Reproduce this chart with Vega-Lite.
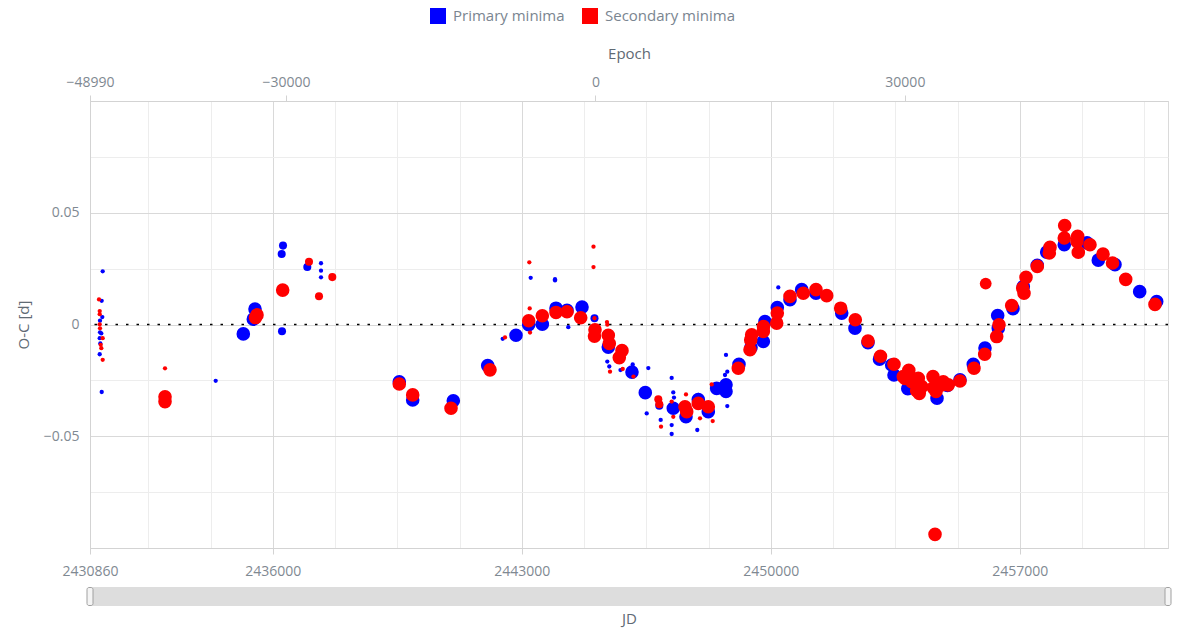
{
  "$schema": "https://vega.github.io/schema/vega-lite/v6.json",
  "background": "white",
  "padding": {"left": 15, "top": 8, "right": 3, "bottom": 2},
  "spacing": 8,
  "datasets": {
    "minima": [
      {"type":"Primary minima","jd":2431217,"oc":0.0238,"weight":2},
      {"type":"Primary minima","jd":2431189,"oc":0.0106,"weight":2},
      {"type":"Primary minima","jd":2431206,"oc":0.0033,"weight":2},
      {"type":"Primary minima","jd":2431141,"oc":0.0017,"weight":2},
      {"type":"Primary minima","jd":2431141,"oc":-0.0035,"weight":2},
      {"type":"Primary minima","jd":2431178,"oc":-0.004,"weight":2},
      {"type":"Primary minima","jd":2431133,"oc":-0.0061,"weight":2},
      {"type":"Primary minima","jd":2431150,"oc":-0.0085,"weight":2},
      {"type":"Primary minima","jd":2431133,"oc":-0.0133,"weight":2},
      {"type":"Primary minima","jd":2431189,"oc":-0.0302,"weight":2},
      {"type":"Primary minima","jd":2434394,"oc":-0.0252,"weight":2},
      {"type":"Primary minima","jd":2435170,"oc":-0.0042,"weight":20},
      {"type":"Primary minima","jd":2435499,"oc":0.0069,"weight":20},
      {"type":"Primary minima","jd":2435451,"oc":0.0024,"weight":20},
      {"type":"Primary minima","jd":2436286,"oc":0.0353,"weight":7},
      {"type":"Primary minima","jd":2436249,"oc":0.0315,"weight":7},
      {"type":"Primary minima","jd":2436258,"oc":-0.003,"weight":7},
      {"type":"Primary minima","jd":2436969,"oc":0.0257,"weight":7},
      {"type":"Primary minima","jd":2437354,"oc":0.0274,"weight":2},
      {"type":"Primary minima","jd":2437354,"oc":0.0241,"weight":2},
      {"type":"Primary minima","jd":2437354,"oc":0.0211,"weight":2},
      {"type":"Primary minima","jd":2439555,"oc":-0.0256,"weight":20},
      {"type":"Primary minima","jd":2439932,"oc":-0.0338,"weight":20},
      {"type":"Primary minima","jd":2441074,"oc":-0.0341,"weight":20},
      {"type":"Primary minima","jd":2442041,"oc":-0.0184,"weight":20},
      {"type":"Primary minima","jd":2442462,"oc":-0.0064,"weight":2},
      {"type":"Primary minima","jd":2442836,"oc":-0.0048,"weight":20},
      {"type":"Primary minima","jd":2443193,"oc":-0.0001,"weight":20},
      {"type":"Primary minima","jd":2443249,"oc":0.0209,"weight":2},
      {"type":"Primary minima","jd":2443576,"oc":0.0001,"weight":20},
      {"type":"Primary minima","jd":2443933,"oc":0.0203,"weight":2},
      {"type":"Primary minima","jd":2443933,"oc":0.0197,"weight":2},
      {"type":"Primary minima","jd":2443961,"oc":0.0073,"weight":20},
      {"type":"Primary minima","jd":2444270,"oc":0.0063,"weight":20},
      {"type":"Primary minima","jd":2444306,"oc":-0.0012,"weight":2},
      {"type":"Primary minima","jd":2444692,"oc":0.0078,"weight":20},
      {"type":"Primary minima","jd":2445043,"oc":0.0028,"weight":7},
      {"type":"Primary minima","jd":2445431,"oc":-0.0101,"weight":20},
      {"type":"Primary minima","jd":2445403,"oc":-0.0166,"weight":2},
      {"type":"Primary minima","jd":2445459,"oc":-0.0188,"weight":2},
      {"type":"Primary minima","jd":2445774,"oc":-0.0204,"weight":2},
      {"type":"Primary minima","jd":2446097,"oc":-0.0213,"weight":20},
      {"type":"Primary minima","jd":2446117,"oc":-0.0179,"weight":2},
      {"type":"Primary minima","jd":2446556,"oc":-0.0195,"weight":2},
      {"type":"Primary minima","jd":2446471,"oc":-0.0305,"weight":20},
      {"type":"Primary minima","jd":2446511,"oc":-0.0398,"weight":2},
      {"type":"Primary minima","jd":2446865,"oc":-0.0363,"weight":7},
      {"type":"Primary minima","jd":2446904,"oc":-0.0427,"weight":2},
      {"type":"Primary minima","jd":2447213,"oc":-0.0239,"weight":2},
      {"type":"Primary minima","jd":2447258,"oc":-0.0304,"weight":2},
      {"type":"Primary minima","jd":2447278,"oc":-0.0327,"weight":2},
      {"type":"Primary minima","jd":2447258,"oc":-0.0375,"weight":20},
      {"type":"Primary minima","jd":2447213,"oc":-0.045,"weight":2},
      {"type":"Primary minima","jd":2447213,"oc":-0.049,"weight":2},
      {"type":"Primary minima","jd":2447615,"oc":-0.0413,"weight":20},
      {"type":"Primary minima","jd":2447961,"oc":-0.0315,"weight":2},
      {"type":"Primary minima","jd":2447961,"oc":-0.0336,"weight":20},
      {"type":"Primary minima","jd":2447933,"oc":-0.0472,"weight":2},
      {"type":"Primary minima","jd":2448242,"oc":-0.039,"weight":20},
      {"type":"Primary minima","jd":2448478,"oc":-0.0286,"weight":20},
      {"type":"Primary minima","jd":2448740,"oc":-0.027,"weight":20},
      {"type":"Primary minima","jd":2448740,"oc":-0.03,"weight":20},
      {"type":"Primary minima","jd":2448776,"oc":-0.0365,"weight":2},
      {"type":"Primary minima","jd":2448712,"oc":-0.0226,"weight":2},
      {"type":"Primary minima","jd":2448740,"oc":-0.0136,"weight":2},
      {"type":"Primary minima","jd":2448776,"oc":-0.0211,"weight":2},
      {"type":"Primary minima","jd":2449105,"oc":-0.0178,"weight":20},
      {"type":"Primary minima","jd":2449443,"oc":-0.0103,"weight":20},
      {"type":"Primary minima","jd":2449789,"oc":-0.0076,"weight":20},
      {"type":"Primary minima","jd":2449836,"oc":0.0013,"weight":20},
      {"type":"Primary minima","jd":2450182,"oc":0.0076,"weight":20},
      {"type":"Primary minima","jd":2450210,"oc":0.0166,"weight":2},
      {"type":"Primary minima","jd":2450539,"oc":0.0111,"weight":20},
      {"type":"Primary minima","jd":2450868,"oc":0.0156,"weight":20},
      {"type":"Primary minima","jd":2451270,"oc":0.014,"weight":20},
      {"type":"Primary minima","jd":2451993,"oc":0.0051,"weight":20},
      {"type":"Primary minima","jd":2452366,"oc":-0.0017,"weight":20},
      {"type":"Primary minima","jd":2452732,"oc":-0.0081,"weight":20},
      {"type":"Primary minima","jd":2453055,"oc":-0.0155,"weight":20},
      {"type":"Primary minima","jd":2453398,"oc":-0.0181,"weight":20},
      {"type":"Primary minima","jd":2453463,"oc":-0.0226,"weight":20},
      {"type":"Primary minima","jd":2453851,"oc":-0.0287,"weight":20},
      {"type":"Primary minima","jd":2454138,"oc":-0.0269,"weight":20},
      {"type":"Primary minima","jd":2454672,"oc":-0.033,"weight":20},
      {"type":"Primary minima","jd":2454967,"oc":-0.0273,"weight":20},
      {"type":"Primary minima","jd":2455318,"oc":-0.0247,"weight":20},
      {"type":"Primary minima","jd":2455692,"oc":-0.0178,"weight":20},
      {"type":"Primary minima","jd":2456021,"oc":-0.0105,"weight":20},
      {"type":"Primary minima","jd":2456395,"oc":-0.0017,"weight":20},
      {"type":"Primary minima","jd":2456378,"oc":0.004,"weight":20},
      {"type":"Primary minima","jd":2456808,"oc":0.0071,"weight":20},
      {"type":"Primary minima","jd":2457098,"oc":0.017,"weight":20},
      {"type":"Primary minima","jd":2457491,"oc":0.0265,"weight":20},
      {"type":"Primary minima","jd":2457756,"oc":0.0324,"weight":20},
      {"type":"Primary minima","jd":2458250,"oc":0.0357,"weight":20},
      {"type":"Primary minima","jd":2458889,"oc":0.0365,"weight":20},
      {"type":"Primary minima","jd":2459206,"oc":0.0288,"weight":20},
      {"type":"Primary minima","jd":2459676,"oc":0.0268,"weight":20},
      {"type":"Primary minima","jd":2460370,"oc":0.0147,"weight":20},
      {"type":"Primary minima","jd":2460848,"oc":0.0103,"weight":20},
      {"type":"Secondary minima","jd":2431113,"oc":0.0112,"weight":2},
      {"type":"Secondary minima","jd":2431133,"oc":0.006,"weight":2},
      {"type":"Secondary minima","jd":2431133,"oc":0.0046,"weight":2},
      {"type":"Secondary minima","jd":2431133,"oc":0.0001,"weight":2},
      {"type":"Secondary minima","jd":2431141,"oc":-0.0017,"weight":2},
      {"type":"Secondary minima","jd":2431217,"oc":-0.0061,"weight":2},
      {"type":"Secondary minima","jd":2431161,"oc":-0.0091,"weight":2},
      {"type":"Secondary minima","jd":2431178,"oc":-0.0106,"weight":2},
      {"type":"Secondary minima","jd":2431217,"oc":-0.0158,"weight":2},
      {"type":"Secondary minima","jd":2432969,"oc":-0.0196,"weight":2},
      {"type":"Secondary minima","jd":2432969,"oc":-0.0323,"weight":20},
      {"type":"Secondary minima","jd":2432969,"oc":-0.0345,"weight":20},
      {"type":"Secondary minima","jd":2435555,"oc":0.0043,"weight":20},
      {"type":"Secondary minima","jd":2435513,"oc":0.0031,"weight":20},
      {"type":"Secondary minima","jd":2436277,"oc":0.0154,"weight":20},
      {"type":"Secondary minima","jd":2437017,"oc":0.0281,"weight":7},
      {"type":"Secondary minima","jd":2437298,"oc":0.0126,"weight":7},
      {"type":"Secondary minima","jd":2437672,"oc":0.0212,"weight":7},
      {"type":"Secondary minima","jd":2439555,"oc":-0.0266,"weight":20},
      {"type":"Secondary minima","jd":2439932,"oc":-0.0315,"weight":20},
      {"type":"Secondary minima","jd":2441009,"oc":-0.0375,"weight":20},
      {"type":"Secondary minima","jd":2442105,"oc":-0.0203,"weight":20},
      {"type":"Secondary minima","jd":2442527,"oc":-0.0058,"weight":2},
      {"type":"Secondary minima","jd":2443193,"oc":0.0017,"weight":20},
      {"type":"Secondary minima","jd":2443210,"oc":0.0278,"weight":2},
      {"type":"Secondary minima","jd":2443221,"oc":0.0072,"weight":2},
      {"type":"Secondary minima","jd":2443230,"oc":-0.0036,"weight":2},
      {"type":"Secondary minima","jd":2443576,"oc":0.0039,"weight":20},
      {"type":"Secondary minima","jd":2443961,"oc":0.0054,"weight":20},
      {"type":"Secondary minima","jd":2444270,"oc":0.0057,"weight":20},
      {"type":"Secondary minima","jd":2444655,"oc":0.003,"weight":20},
      {"type":"Secondary minima","jd":2445015,"oc":0.0348,"weight":2},
      {"type":"Secondary minima","jd":2445015,"oc":0.0257,"weight":2},
      {"type":"Secondary minima","jd":2445043,"oc":0.0028,"weight":2},
      {"type":"Secondary minima","jd":2445057,"oc":-0.0024,"weight":20},
      {"type":"Secondary minima","jd":2445043,"oc":-0.0052,"weight":20},
      {"type":"Secondary minima","jd":2445394,"oc":0.0011,"weight":2},
      {"type":"Secondary minima","jd":2445403,"oc":-0.0001,"weight":2},
      {"type":"Secondary minima","jd":2445431,"oc":-0.0048,"weight":20},
      {"type":"Secondary minima","jd":2445459,"oc":-0.0085,"weight":20},
      {"type":"Secondary minima","jd":2445479,"oc":-0.0211,"weight":2},
      {"type":"Secondary minima","jd":2445816,"oc":-0.0117,"weight":20},
      {"type":"Secondary minima","jd":2445740,"oc":-0.0148,"weight":20},
      {"type":"Secondary minima","jd":2445836,"oc":-0.0199,"weight":2},
      {"type":"Secondary minima","jd":2446139,"oc":-0.0233,"weight":2},
      {"type":"Secondary minima","jd":2446837,"oc":-0.0334,"weight":7},
      {"type":"Secondary minima","jd":2446865,"oc":-0.0357,"weight":7},
      {"type":"Secondary minima","jd":2446913,"oc":-0.0457,"weight":2},
      {"type":"Secondary minima","jd":2447213,"oc":-0.0345,"weight":2},
      {"type":"Secondary minima","jd":2447258,"oc":-0.0413,"weight":2},
      {"type":"Secondary minima","jd":2447615,"oc":-0.0313,"weight":2},
      {"type":"Secondary minima","jd":2447587,"oc":-0.0368,"weight":20},
      {"type":"Secondary minima","jd":2447635,"oc":-0.039,"weight":20},
      {"type":"Secondary minima","jd":2447961,"oc":-0.0353,"weight":20},
      {"type":"Secondary minima","jd":2448009,"oc":-0.042,"weight":2},
      {"type":"Secondary minima","jd":2448242,"oc":-0.0368,"weight":20},
      {"type":"Secondary minima","jd":2448366,"oc":-0.0432,"weight":2},
      {"type":"Secondary minima","jd":2448338,"oc":-0.0268,"weight":2},
      {"type":"Secondary minima","jd":2449086,"oc":-0.0196,"weight":20},
      {"type":"Secondary minima","jd":2449415,"oc":-0.0113,"weight":20},
      {"type":"Secondary minima","jd":2449435,"oc":-0.0069,"weight":20},
      {"type":"Secondary minima","jd":2449462,"oc":-0.0046,"weight":20},
      {"type":"Secondary minima","jd":2449789,"oc":-0.0031,"weight":20},
      {"type":"Secondary minima","jd":2449794,"oc":-0.0009,"weight":20},
      {"type":"Secondary minima","jd":2450165,"oc":0.0006,"weight":20},
      {"type":"Secondary minima","jd":2450182,"oc":0.0051,"weight":20},
      {"type":"Secondary minima","jd":2450539,"oc":0.0126,"weight":20},
      {"type":"Secondary minima","jd":2450913,"oc":0.014,"weight":20},
      {"type":"Secondary minima","jd":2451270,"oc":0.0156,"weight":20},
      {"type":"Secondary minima","jd":2451571,"oc":0.0129,"weight":20},
      {"type":"Secondary minima","jd":2451964,"oc":0.0073,"weight":20},
      {"type":"Secondary minima","jd":2452375,"oc":0.0021,"weight":20},
      {"type":"Secondary minima","jd":2452732,"oc":-0.0074,"weight":20},
      {"type":"Secondary minima","jd":2453083,"oc":-0.0142,"weight":20},
      {"type":"Secondary minima","jd":2453463,"oc":-0.0178,"weight":20},
      {"type":"Secondary minima","jd":2453724,"oc":-0.0233,"weight":20},
      {"type":"Secondary minima","jd":2453879,"oc":-0.0205,"weight":20},
      {"type":"Secondary minima","jd":2453772,"oc":-0.0241,"weight":20},
      {"type":"Secondary minima","jd":2453960,"oc":-0.0256,"weight":20},
      {"type":"Secondary minima","jd":2454101,"oc":-0.0296,"weight":20},
      {"type":"Secondary minima","jd":2454146,"oc":-0.0241,"weight":20},
      {"type":"Secondary minima","jd":2454242,"oc":-0.0278,"weight":20},
      {"type":"Secondary minima","jd":2454174,"oc":-0.0308,"weight":20},
      {"type":"Secondary minima","jd":2454559,"oc":-0.0233,"weight":20},
      {"type":"Secondary minima","jd":2454568,"oc":-0.0283,"weight":20},
      {"type":"Secondary minima","jd":2454644,"oc":-0.03,"weight":20},
      {"type":"Secondary minima","jd":2454804,"oc":-0.027,"weight":20},
      {"type":"Secondary minima","jd":2454849,"oc":-0.0256,"weight":20},
      {"type":"Secondary minima","jd":2454990,"oc":-0.027,"weight":20},
      {"type":"Secondary minima","jd":2455318,"oc":-0.0253,"weight":20},
      {"type":"Secondary minima","jd":2454616,"oc":-0.0939,"weight":20},
      {"type":"Secondary minima","jd":2455712,"oc":-0.0196,"weight":20},
      {"type":"Secondary minima","jd":2456013,"oc":-0.0133,"weight":20},
      {"type":"Secondary minima","jd":2456041,"oc":0.0183,"weight":15},
      {"type":"Secondary minima","jd":2456350,"oc":-0.0054,"weight":20},
      {"type":"Secondary minima","jd":2456415,"oc":-0.0001,"weight":20},
      {"type":"Secondary minima","jd":2456772,"oc":0.0085,"weight":20},
      {"type":"Secondary minima","jd":2457118,"oc":0.014,"weight":20},
      {"type":"Secondary minima","jd":2457081,"oc":0.0163,"weight":20},
      {"type":"Secondary minima","jd":2457174,"oc":0.0211,"weight":20},
      {"type":"Secondary minima","jd":2457491,"oc":0.026,"weight":20},
      {"type":"Secondary minima","jd":2457829,"oc":0.032,"weight":20},
      {"type":"Secondary minima","jd":2457848,"oc":0.0345,"weight":20},
      {"type":"Secondary minima","jd":2458262,"oc":0.0443,"weight":20},
      {"type":"Secondary minima","jd":2458250,"oc":0.0387,"weight":20},
      {"type":"Secondary minima","jd":2458627,"oc":0.0395,"weight":20},
      {"type":"Secondary minima","jd":2458607,"oc":0.0372,"weight":20},
      {"type":"Secondary minima","jd":2458644,"oc":0.0323,"weight":20},
      {"type":"Secondary minima","jd":2458973,"oc":0.0357,"weight":20},
      {"type":"Secondary minima","jd":2459339,"oc":0.0315,"weight":20},
      {"type":"Secondary minima","jd":2459606,"oc":0.0275,"weight":20},
      {"type":"Secondary minima","jd":2459977,"oc":0.0202,"weight":20},
      {"type":"Secondary minima","jd":2460800,"oc":0.009,"weight":20}
    ],
    "slider": [{"start": 2430860, "end": 2461166}]
  },
  "vconcat": [
    {
      "width": 1078,
      "height": 447,
      "resolve": {"scale": {"x": "independent"}, "axis": {"x": "independent"}},
      "layer": [
        {
          "data": {"values": [{}]},
          "mark": {"type": "rule", "color": "#000000", "strokeDash": [2.5, 8], "strokeWidth": 1.3},
          "encoding": {"y": {"datum": 0, "type": "quantitative"}}
        },
        {
          "data": {"name": "minima"},
          "mark": {"type": "circle", "opacity": 1},
          "encoding": {
            "x": {
              "field": "jd", "type": "quantitative",
              "scale": {"domain": [2430860, 2461166], "nice": false, "zero": false},
              "axis": {
                "orient": "bottom", "title": null, "format": "d",
                "values": [2430860, 2432500, 2434250, 2436000, 2437750, 2439500, 2441250, 2443000, 2444750, 2446500, 2448250, 2450000, 2451750, 2453500, 2455250, 2457000, 2458750, 2460500],
                "labelExpr": "datum.value % 7000 === 0 || datum.value === 2430860 ? datum.label : ''",
                "labelOverlap": false, "labelFlush": false,
                "grid": true,
                "gridColor": {"condition": {"test": "datum.value % 7000 === 0", "value": "#d9d9d9"}, "value": "#ededed"},
                "tickOpacity": {"condition": {"test": "datum.value % 7000 === 0 || datum.value === 2430860", "value": 1}, "value": 0},
                "tickSize": 6, "labelPadding": 10
              }
            },
            "y": {
              "field": "oc", "type": "quantitative",
              "scale": {"domain": [-0.1, 0.1], "nice": false, "zero": false},
              "axis": {
                "title": "O-C [d]", "format": "~g",
                "values": [-0.1, -0.0875, -0.075, -0.0625, -0.05, -0.0375, -0.025, -0.0125, 0, 0.0125, 0.025, 0.0375, 0.05, 0.0625, 0.075, 0.0875, 0.1],
                "labelExpr": "abs(datum.value) < 0.06 && abs(datum.value * 20 - round(datum.value * 20)) < 0.001 ? datum.label : ''",
                "labelOverlap": false, "labelFlush": false,
                "grid": true,
                "gridColor": {"condition": {"test": "abs(datum.value * 20 - round(datum.value * 20)) < 0.001", "value": "#d9d9d9"}, "value": "#ededed"},
                "ticks": false, "labelPadding": 11, "titlePadding": 12
              }
            },
            "color": {
              "field": "type", "type": "nominal",
              "scale": {"domain": ["Primary minima", "Secondary minima"], "range": ["#0000ff", "#ff0000"]},
              "legend": {
                "orient": "none", "legendX": 340, "legendY": -93, "direction": "horizontal",
                "title": null, "symbolType": "square", "symbolSize": 256, "symbolStrokeWidth": 0,
                "labelFontSize": 15, "labelFont": "Open Sans", "labelColor": "#7a8590",
                "columnPadding": 17, "labelOffset": 7
              }
            },
            "size": {
              "field": "weight", "type": "quantitative",
              "scale": {"domain": [0, 20], "range": [0, 185]},
              "legend": null
            }
          }
        },
        {
          "data": {"values": [{}]},
          "mark": {"type": "point", "opacity": 0},
          "encoding": {
            "x": {
              "datum": 0, "type": "quantitative",
              "scale": {"domain": [-48990, 55506], "nice": false, "zero": false},
              "axis": {
                "orient": "top", "title": "Epoch", "format": "d",
                "values": [-48990, -30000, 0, 30000],
                "grid": false, "labelFlush": false, "labelOverlap": false,
                "tickSize": 6, "labelPadding": 6, "titlePadding": 14
              }
            }
          }
        }
      ]
    },
    {
      "width": 1078,
      "height": 19,
      "view": {"stroke": null},
      "data": {"name": "slider"},
      "encoding": {
        "x": {
          "field": "start", "type": "quantitative",
          "scale": {"domain": [2430860, 2461166], "nice": false, "zero": false},
          "axis": {"title": "JD", "labels": false, "ticks": false, "domain": false, "grid": false, "titlePadding": 5}
        }
      },
      "layer": [
        {
          "mark": {"type": "rect", "color": "#dddddd"},
          "encoding": {"x2": {"field": "end"}}
        },
        {
          "mark": {"type": "tick", "orient": "vertical", "thickness": 6, "size": 18, "color": "#f4f4f4", "stroke": "#a0a0a0", "strokeWidth": 1, "cornerRadius": 2, "opacity": 1}
        },
        {
          "mark": {"type": "tick", "orient": "vertical", "thickness": 6, "size": 18, "color": "#f4f4f4", "stroke": "#a0a0a0", "strokeWidth": 1, "cornerRadius": 2, "opacity": 1},
          "encoding": {"x": {"field": "end", "type": "quantitative"}}
        }
      ]
    }
  ],
  "config": {
    "view": {"stroke": "#dadada"},
    "axis": {
      "labelFont": "Open Sans", "titleFont": "Open Sans",
      "labelFontSize": 14, "titleFontSize": 15, "titleFontWeight": "normal",
      "labelColor": "#7f8992", "titleColor": "#5f6a74",
      "domainColor": "#d3d3d3", "tickColor": "#d3d3d3", "gridColor": "#ebebeb"
    }
  }
}
